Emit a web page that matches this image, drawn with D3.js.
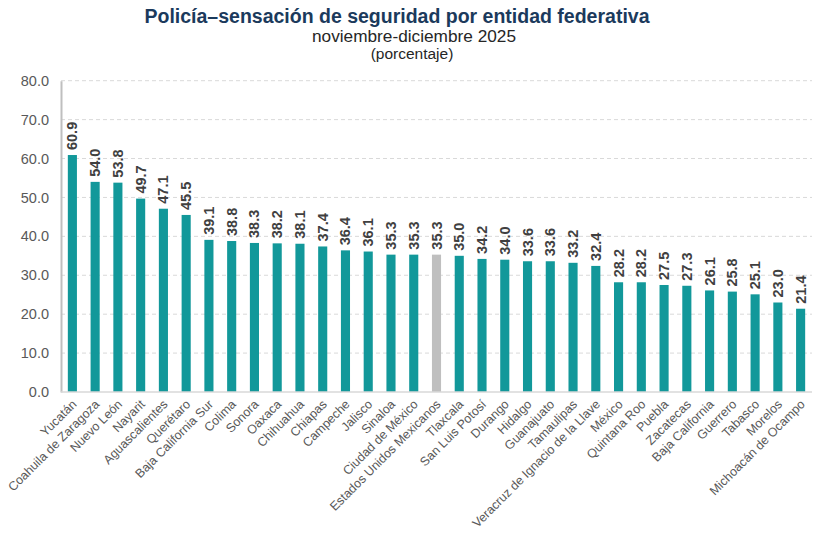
<!DOCTYPE html>
<html><head><meta charset="utf-8">
<script src="https://cdn.jsdelivr.net/npm/d3@7"></script>
<style>body{margin:0;background:#fff;font-family:Arial,"Liberation Sans",sans-serif;}</style>
</head><body>
<svg id="chart" width="825" height="534"></svg>
<script>
const categories = ["Yucatán","Coahuila de Zaragoza","Nuevo León","Nayarit","Aguascalientes","Querétaro","Baja California Sur","Colima","Sonora","Oaxaca","Chihuahua","Chiapas","Campeche","Jalisco","Sinaloa","Ciudad de México","Estados Unidos Mexicanos","Tlaxcala","San Luis Potosí","Durango","Hidalgo","Guanajuato","Tamaulipas","Veracruz de Ignacio de la Llave","México","Quintana Roo","Puebla","Zacatecas","Baja California","Guerrero","Tabasco","Morelos","Michoacán de Ocampo"];
const values = [60.9,54.0,53.8,49.7,47.1,45.5,39.1,38.8,38.3,38.2,38.1,37.4,36.4,36.1,35.3,35.3,35.3,35.0,34.2,34.0,33.6,33.6,33.2,32.4,28.2,28.2,27.5,27.3,26.1,25.8,25.1,23.0,21.4];
const highlight = ["Estados Unidos Mexicanos"];
const yTicks = [0,10,20,30,40,50,60,70,80];

const svg = d3.select("#chart");
const m = {left:61, right:13, top:80.7, bottom:142};
const W = 825, H = 534;
const x = d3.scaleBand().domain(categories).range([m.left, W - m.right]).paddingInner(0.6).paddingOuter(0.3);
const y = d3.scaleLinear().domain([0,80]).range([H - m.bottom, m.top]);

// grid
svg.append("g").selectAll("line").data(yTicks.filter(d=>d>0)).join("line")
  .attr("x1", m.left).attr("x2", W - m.right)
  .attr("y1", d=>y(d)).attr("y2", d=>y(d))
  .attr("stroke","#d9d9d9").attr("stroke-width",1).attr("stroke-dasharray","4,3");

// y axis
const ya = svg.append("g").attr("transform",`translate(${m.left},0)`)
  .call(d3.axisLeft(y).tickValues(yTicks).tickFormat(d3.format(".1f")).tickSize(0).tickPadding(12));
ya.select(".domain").attr("stroke","#bfbfbf").attr("stroke-width",2);
ya.selectAll("text").attr("font-size","14.5px").attr("fill","#595959").attr("font-family","Arial, 'Liberation Sans', sans-serif");

// bars
svg.append("g").selectAll("rect").data(categories).join("rect")
  .attr("x", d=>x(d)).attr("width", x.bandwidth())
  .attr("y", (d,i)=>y(values[i])).attr("height", (d,i)=>y(0)-y(values[i]))
  .attr("fill", d=>highlight.includes(d) ? "#bfbfbf" : "#12989a");

// x baseline
svg.append("line").attr("x1",m.left).attr("x2",W-m.right).attr("y1",y(0)).attr("y2",y(0))
  .attr("stroke","#d9d9d9").attr("stroke-width",1.5);

// value labels
svg.append("g").selectAll("text").data(categories).join("text")
  .attr("transform",(d,i)=>`translate(${x(d)+x.bandwidth()/2+5},${y(values[i])-5}) rotate(-90)`)
  .attr("font-size","14.5px").attr("font-weight","bold").attr("fill","#404040")
  .text((d,i)=>values[i].toFixed(1));

// x axis labels
const xa = svg.append("g").attr("transform",`translate(0,${y(0)})`)
  .call(d3.axisBottom(x).tickSize(0));
xa.select(".domain").remove();
xa.selectAll("text").attr("font-size","12.5px").attr("fill","#595959")
  .attr("font-family","Arial, 'Liberation Sans', sans-serif")
  .attr("text-anchor","end").attr("dy",null).attr("y",0)
  .attr("transform","translate(5,13) rotate(-45)");

// titles
svg.append("text").attr("x",397).attr("y",23).attr("text-anchor","middle")
  .attr("font-size","19.5px").attr("font-weight","bold").attr("fill","#1b3a5c")
  .text("Policía–sensación de seguridad por entidad federativa");
svg.append("text").attr("x",414).attr("y",42).attr("text-anchor","middle")
  .attr("font-size","16.5px").attr("fill","#262626").attr("textLength",204).attr("lengthAdjust","spacingAndGlyphs")
  .text("noviembre-diciembre 2025");
svg.append("text").attr("x",412).attr("y",59).attr("text-anchor","middle")
  .attr("font-size","15.5px").attr("fill","#262626").text("(porcentaje)");
</script>
</body></html>
